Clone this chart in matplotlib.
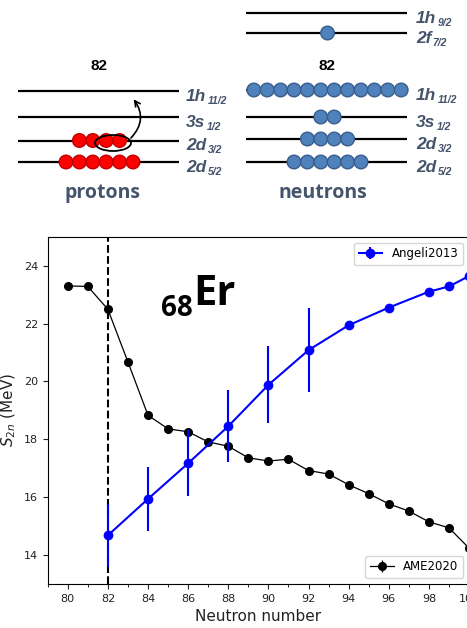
import matplotlib
matplotlib.use('Agg')
import matplotlib.pyplot as plt
from matplotlib.patches import Circle, Ellipse, FancyArrowPatch
from matplotlib.ticker import MultipleLocator

# shell model occupancies (bottom level first)
proton_orbits = ['2d', '2d', '3s', '1h']
proton_j = ['5/2', '3/2', '1/2', '11/2']
proton_occ = [6, 4, 0, 0]
neutron_orbits = ['2d', '2d', '3s', '1h', '2f', '1h']
neutron_j = ['5/2', '3/2', '1/2', '11/2', '7/2', '9/2']
neutron_occ = [6, 4, 2, 12, 1, 0]
magic_number = '82'

# S2n data
ame_n = [80, 81, 82, 83, 84, 85, 86, 87, 88, 89, 90, 91, 92, 93, 94, 95, 96, 97, 98, 99, 100]
ame_s2n = [23.30, 23.28, 22.49, 20.67, 18.83, 18.36, 18.26, 17.91, 17.76, 17.36, 17.25,
           17.31, 16.92, 16.80, 16.43, 16.12, 15.77, 15.52, 15.15, 14.94, 14.24]
ame_err = [0.0] * 21
angeli_n = [82, 84, 86, 88, 90, 92, 94, 96, 98, 99, 100]
angeli_s2n = [14.68, 15.94, 17.17, 18.45, 19.88, 21.08, 21.94, 22.55, 23.10, 23.28, 23.64]
angeli_err = [1.10, 1.10, 1.14, 1.24, 1.33, 1.44, 0.10, 0.10, 0.10, 0.10, 0.10]

W, H = 467, 628
fig = plt.figure(figsize=(W / 100, H / 100), dpi=100)

# ---------------- S2n plot ----------------
ax = fig.add_axes([47.7 / W, 44 / H, (469 - 47.7) / W, (584 - 236.7) / H])
ax.axvline(82, color='k', ls='--', lw=1.5, zorder=1)
h_ame = ax.errorbar(ame_n, ame_s2n, yerr=ame_err, color='black', marker='o', ms=5.5,
                    lw=0.9, label='AME2020', zorder=3)
h_ang = ax.errorbar(angeli_n, angeli_s2n, yerr=angeli_err, color='blue', marker='o', ms=6,
                    lw=1.5, elinewidth=1.5, label='Angeli2013', zorder=4)
ax.set_xlim(79, 100)
ax.set_ylim(13, 25)
ax.xaxis.set_major_locator(MultipleLocator(2))
ax.xaxis.set_minor_locator(MultipleLocator(1))
ax.yaxis.set_major_locator(MultipleLocator(2))
ax.tick_params(labelsize=8, colors='#222222')
ax.set_xlabel('Neutron number', fontsize=11, color='#222222')
ax.set_ylabel(r'$S_{2n}$ (MeV)', fontsize=11, color='#222222')

leg1 = ax.legend(handles=[h_ang], loc='upper right', fontsize=8.5)
ax.add_artist(leg1)
ax.legend(handles=[h_ame], loc='lower right', fontsize=8.5)

ax.text(84.67, 22.25, '68', fontsize=20, fontweight='bold', family='Open Sans', va='baseline')
ax.text(86.27, 22.63, 'Er', fontsize=30, fontweight='bold', family='Open Sans', va='baseline')

# ---------------- shell diagram ----------------
dg = fig.add_axes([0, 0, 1, 1], zorder=5)
dg.set_xlim(0, W)
dg.set_ylim(H, 0)
dg.axis('off')
dg.patch.set_visible(False)

label_color = '#44546A'


def draw_levels(x0, x1, ys, orbits, js, occ, fc, ec, label_x):
    xc = (x0 + x1) / 2 + 1
    step = 13.4
    for y, orb, j, n in zip(ys, orbits, js, occ):
        dg.plot([x0, x1], [y, y], color='k', lw=1.6, solid_capstyle='butt')
        for i in range(n):
            cx = xc + (i - (n - 1) / 2) * step
            dg.add_patch(Circle((cx, y), 6.8, fc=fc, ec=ec, lw=1.0, zorder=3))
        t = dg.text(label_x, y + 10, orb, fontsize=12.5, fontweight='bold', fontstyle='italic',
                    family='Liberation Sans', color=label_color, va='baseline', ha='left')
        dg.annotate(j, xy=(1, 0.22), xycoords=t, xytext=(1, 0), textcoords='offset points',
                    fontsize=7.5, fontweight='bold', fontstyle='italic', family='Liberation Sans',
                    color=label_color, va='center', ha='left')


proton_y = [162, 140.5, 117, 91]
neutron_y = [162, 139, 117, 90, 33, 13]
draw_levels(18, 179, proton_y, proton_orbits, proton_j, proton_occ,
            '#ff0000', '#c00000', 186)
draw_levels(246, 407, neutron_y, neutron_orbits, neutron_j, neutron_occ,
            '#4f81bd', '#385d8a', 416)

dg.text(99, 66, magic_number, fontsize=11, fontweight='bold', family='Liberation Sans',
        ha='center', va='center')
dg.text(327, 66, magic_number, fontsize=11, fontweight='bold', family='Liberation Sans',
        ha='center', va='center')

dg.add_patch(Ellipse((113, 143), 36, 16, fc='none', ec='k', lw=1.3, zorder=4))
dg.add_patch(FancyArrowPatch((129, 140), (132, 97), connectionstyle='arc3,rad=0.45',
                             arrowstyle='->', mutation_scale=10, lw=1.2, color='k', zorder=4))

dg.text(103, 193, 'protons', fontsize=14, fontweight='bold', family='Open Sans',
        color=label_color, ha='center', va='center')
dg.text(323, 193, 'neutrons', fontsize=14, fontweight='bold', family='Open Sans',
        color=label_color, ha='center', va='center')

fig.savefig('out.png', dpi=100)
